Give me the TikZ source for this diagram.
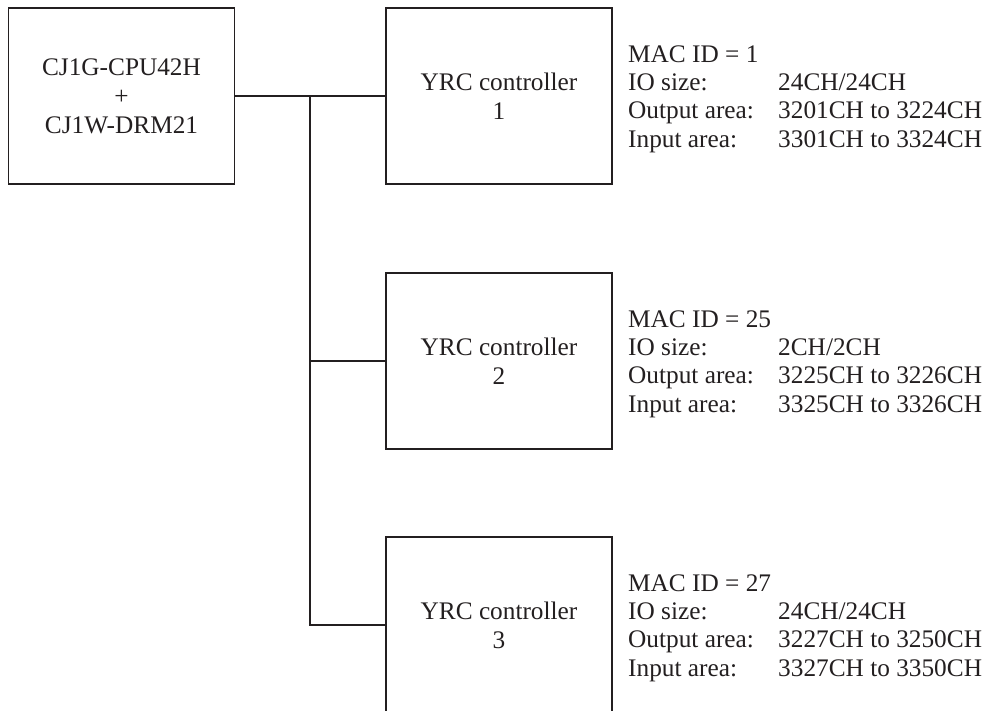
\documentclass[tikz,border=0pt]{standalone}
\usepackage{fontspec}
\setmainfont{Liberation Serif}
\newcommand\fsbox{\fontsize{25.3}{29}\selectfont}
\newcommand\fsinfo{\fontsize{25.3}{28.4}\selectfont}
\newcommand\infolbl[1]{\makebox[150pt][l]{#1}}
\definecolor{ink}{HTML}{231F20}
\tikzset{
  box/.style={draw=ink, line width=1.9pt, minimum width=226pt, minimum height=176pt,
    inner sep=0pt, align=center, font=\fsbox, text=ink},
  info/.style={anchor=west, inner sep=0pt, align=left, font=\fsinfo, text=ink},
  wire/.style={draw=ink, line width=1.9pt},
}
\begin{document}
\begin{tikzpicture}[x=1pt,y=-1pt]
\useasboundingbox (0,0) rectangle (990,711);
\clip (0,0) rectangle (990,711);
\node[box] (cpu) at (121.5,96) {CJ1G-CPU42H\\+\\CJ1W-DRM21};
\node[box] (yrc1) at (499,96) {YRC controller\\1};
\node[box] (yrc2) at (499,361) {YRC controller\\2};
\node[box] (yrc3) at (499,625) {YRC controller\\3};
\node[info] (info1) at (628,99) {MAC ID = 1\\\infolbl{IO size:}24CH/24CH\\\infolbl{Output area:}3201CH to 3224CH\\\infolbl{Input area:}3301CH to 3324CH};
\node[info] (info2) at (628,364) {MAC ID = 25\\\infolbl{IO size:}2CH/2CH\\\infolbl{Output area:}3225CH to 3226CH\\\infolbl{Input area:}3325CH to 3326CH};
\node[info] (info3) at (628,628) {MAC ID = 27\\\infolbl{IO size:}24CH/24CH\\\infolbl{Output area:}3227CH to 3250CH\\\infolbl{Input area:}3327CH to 3350CH};
\coordinate (j1) at (310,96);
\coordinate (j2) at (310,361);
\coordinate (j3) at (310,625);
\draw[wire] (cpu.east) -- (yrc1.west);
\draw[wire] (j1) -- (j3) -- (yrc3.west);
\draw[wire] (j2) -- (yrc2.west);
\end{tikzpicture}
\end{document}
